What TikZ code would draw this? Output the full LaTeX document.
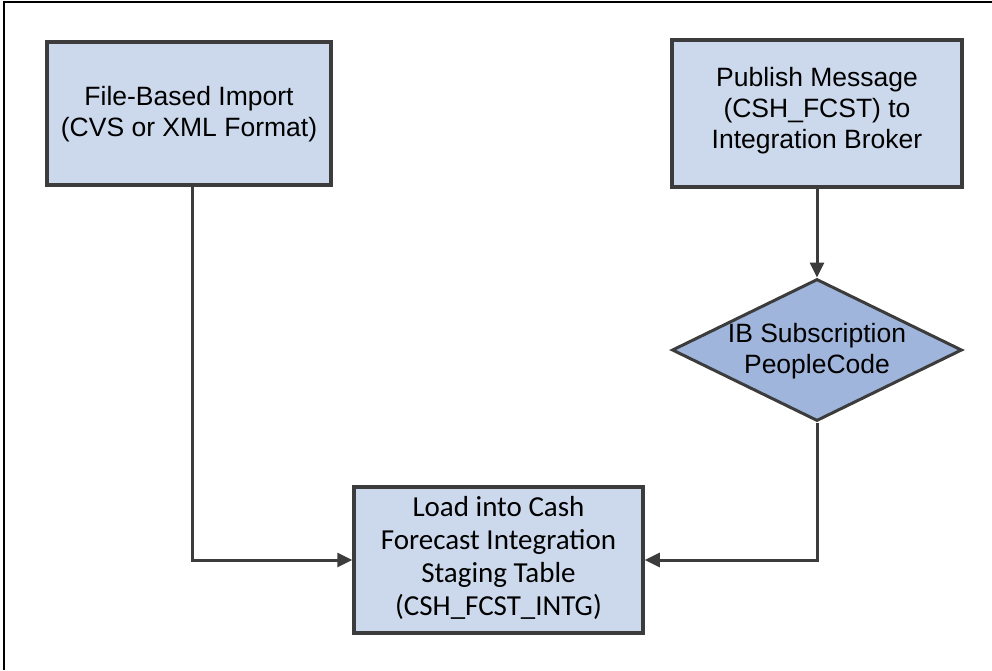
\documentclass[tikz,border=0pt]{standalone}
\usepackage{fontspec}
\setmainfont{Liberation Sans}
\newfontfamily\calib{Carlito}
\usetikzlibrary{shapes.geometric,arrows.meta}
\definecolor{boxfill}{RGB}{204,217,236}
\definecolor{diafill}{RGB}{160,181,220}
\definecolor{edge}{RGB}{60,60,60}
\tikzset{
  procbox/.style={draw=edge, line width=3.5pt, fill=boxfill, inner sep=0pt},
  boxtext/.style={align=center, inner sep=0pt, font=\fontsize{26.5}{31}\selectfont},
  calibtext/.style={align=center, inner sep=0pt, font=\calib\fontsize{29}{33}\selectfont},
  decision/.style={draw=edge, line width=3pt, fill=diafill, shape=diamond, inner sep=0pt},
  conn/.style={draw=edge, line width=3pt, -{Triangle[length=15pt,width=14pt]}},
  frameline/.style={draw=black, line width=2pt}
}
\begin{document}
\begin{tikzpicture}[x=1pt,y=-1pt]
\useasboundingbox (0,0) rectangle (992,670);
\draw[frameline] (4,670) -- (4,2) -- (992,2);
\node[procbox, minimum width=284pt, minimum height=143pt,
  label={[boxtext, yshift=-1pt]center:File-Based Import\\(CVS or XML Format)}] (b1) at (189,113.5) {};
\node[procbox, minimum width=290pt, minimum height=147pt,
  label={[boxtext, yshift=2.5pt]center:Publish Message\\(CSH\_FCST) to\\Integration Broker}] (b2) at (817,113.5) {};
\node[decision, minimum width=290pt, minimum height=142pt,
  label={[boxtext, yshift=-1.5pt]center:IB Subscription\\PeopleCode}] (d1) at (817,350) {};
\node[procbox, minimum width=289pt, minimum height=146pt,
  label={[calibtext, yshift=2pt]center:Load into Cash\\Forecast Integration\\Staging Table\\(CSH\_FCST\_INTG)}] (b3) at (498.5,560) {};
\draw[conn] (b2.south) -- (d1.north);
\draw[conn] ([xshift=3pt]b1.south) |- (b3.west);
\draw[conn] (d1.south) |- (b3.east);
\end{tikzpicture}
\end{document}
